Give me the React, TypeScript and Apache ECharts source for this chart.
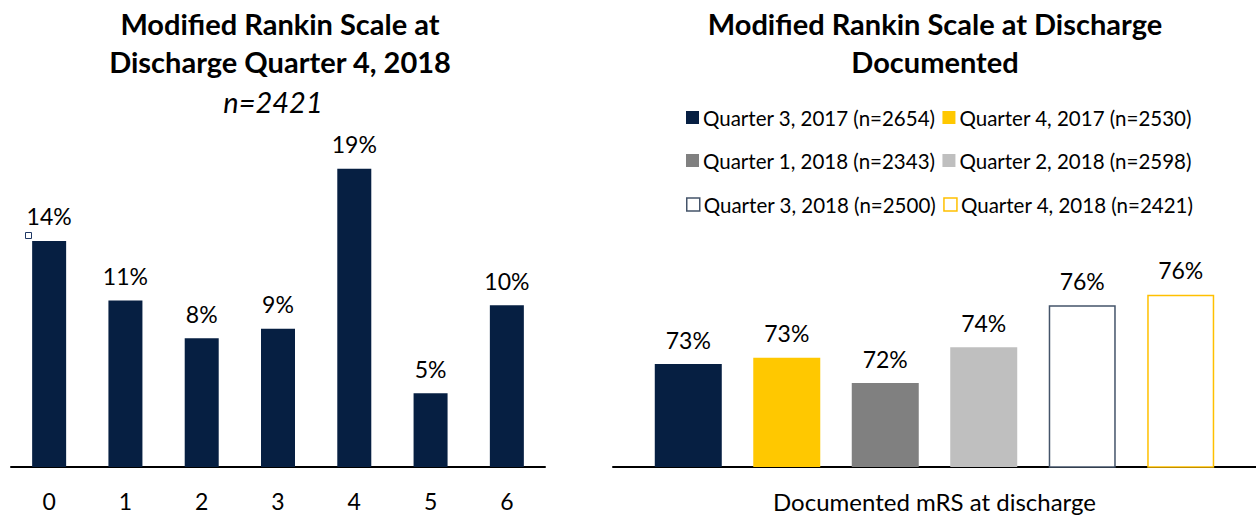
import React, { useEffect, useRef } from "react";
import * as echarts from "echarts";

const mrsCategories = ["0", "1", "2", "3", "4", "5", "6"];
const mrsValues = [14.4, 10.6, 8.2, 8.8, 19.0, 4.7, 10.3];

const quarterNames = [
  "Quarter 3, 2017 (n=2654)",
  "Quarter 4, 2017 (n=2530)",
  "Quarter 1, 2018 (n=2343)",
  "Quarter 2, 2018 (n=2598)",
  "Quarter 3, 2018 (n=2500)",
  "Quarter 4, 2018 (n=2421)",
];
const documentedValues = [72.9, 73.2, 72.0, 73.7, 75.7, 76.2];
const documentedCategory = ["Documented mRS at discharge"];

const FONT = "Lato, 'Open Sans', sans-serif";
const NAVY = "#061F42";
const quarterFill = [NAVY, "#FFC800", "#808080", "#BFBFBF", "#FFFFFF", "#FFFFFF"];
const quarterBorder = [NAVY, "#FFC800", "#808080", "#BFBFBF", "#44546A", "#FFC000"];

export default function App() {
  const ref = useRef<HTMLDivElement>(null);
  useEffect(() => {
    document.body.style.margin = "0";
    const chart = echarts.init(ref.current!, null, { renderer: "svg" });
    const pct = (p: any) => Math.round(p.value) + "%";
    const labelStyle = {
      show: true,
      position: "top",
      distance: 13,
      fontSize: 23,
      color: "#000",
      fontFamily: FONT,
      formatter: pct,
    };
    const legendItem = (i: number) => ({
      name: quarterNames[i],
      itemStyle: {
        color: quarterFill[i],
        borderColor: quarterBorder[i],
        borderWidth: i >= 4 ? 1.5 : 0,
      },
    });
    const legendBase = {
      icon: "rect",
      itemWidth: 13,
      itemHeight: 13,
      itemGap: 7,
      padding: 0,
      selectedMode: false,
      textStyle: { fontSize: 20.5, color: "#000", fontFamily: FONT, padding: [0, 0, 0, -1] },
    };
    const rowTops = [107, 150, 194];
    const titleStyle = (text: string, extra: any) => ({
      text,
      fontSize: 29,
      fontFamily: FONT,
      fill: "#000",
      align: "center",
      verticalAlign: "middle",
      ...extra,
    });
    chart.setOption({
      animation: false,
      grid: [
        { left: 11, width: 534, top: 153, bottom: 51 },
        { left: 613, right: 0, top: 215, bottom: 51 },
      ],
      xAxis: [
        {
          type: "category",
          gridIndex: 0,
          data: mrsCategories,
          axisLine: { lineStyle: { color: "#000", width: 2 } },
          axisTick: { show: false },
          axisLabel: { fontSize: 23, color: "#000", fontFamily: FONT, margin: 22 },
        },
        {
          type: "category",
          gridIndex: 1,
          data: documentedCategory,
          axisLine: { lineStyle: { color: "#000", width: 2 } },
          axisTick: { show: false },
          axisLabel: { fontSize: 24, color: "#000", fontFamily: FONT, margin: 22 },
        },
      ],
      yAxis: [
        { type: "value", gridIndex: 0, min: 0, max: 20, show: false },
        { type: "value", gridIndex: 1, min: 68, max: 80, show: false },
      ],
      legend: [0, 1, 2].map((r) => ({
        ...legendBase,
        left: 686,
        top: rowTops[r],
        data: [legendItem(r * 2), legendItem(r * 2 + 1)],
      })),
      graphic: [
        { type: "text", x: 280, y: 23, style: titleStyle("Modified Rankin Scale at", { fontWeight: "bold" }) },
        { type: "text", x: 280, y: 61, style: titleStyle("Discharge Quarter 4, 2018", { fontWeight: "bold" }) },
        { type: "text", x: 273, y: 101, style: titleStyle("n=2421", { fontStyle: "italic" }) },
        { type: "text", x: 935, y: 23, style: titleStyle("Modified Rankin Scale at Discharge", { fontWeight: "bold" }) },
        { type: "text", x: 935, y: 61, style: titleStyle("Documented", { fontWeight: "bold" }) },
        { type: "rect", shape: { x: 25.5, y: 232.5, width: 6, height: 6 }, style: { fill: "#fff", stroke: "#1F3864", lineWidth: 1 } },
      ],
      series: [
        {
          type: "bar",
          name: "mRS",
          xAxisIndex: 0,
          yAxisIndex: 0,
          data: mrsValues,
          barWidth: 34,
          itemStyle: { color: NAVY },
          label: labelStyle,
        },
        ...quarterNames.map((name, i) => ({
          type: "bar",
          name,
          xAxisIndex: 1,
          yAxisIndex: 1,
          data: [documentedValues[i]],
          barWidth: 67,
          barGap: "47%",
          itemStyle: {
            color: quarterFill[i],
            borderColor: quarterBorder[i],
            borderWidth: i >= 4 ? 1.5 : 0,
          },
          label: labelStyle,
        })),
      ],
    });
    return () => chart.dispose();
  }, []);
  return <div ref={ref} style={{ width: 1256, height: 518 }} />;
}
